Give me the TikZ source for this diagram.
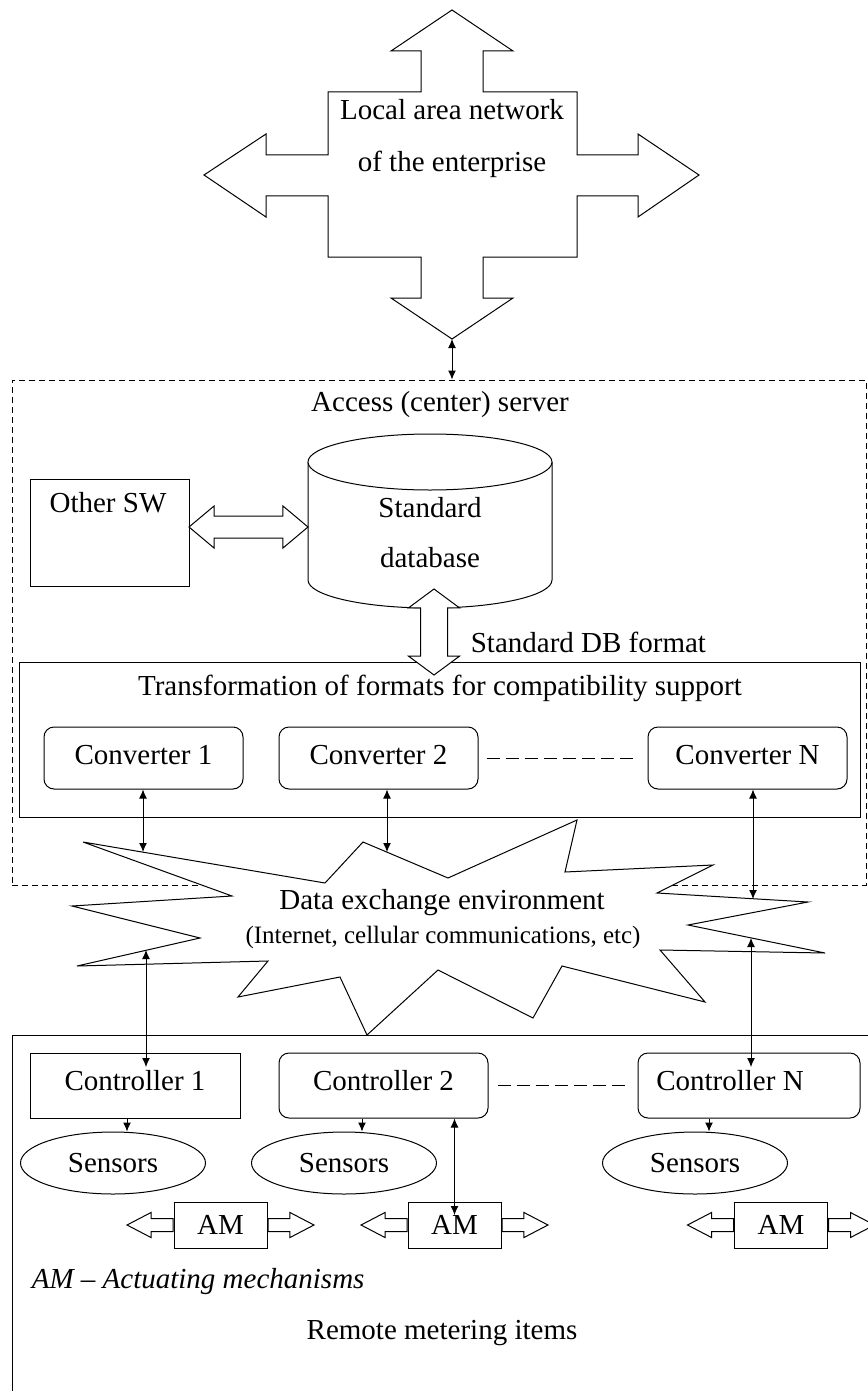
\documentclass[tikz,border=0pt]{standalone}
\usepackage{fontspec}
\setmainfont{Liberation Serif}
\usepackage{tikz}
\usetikzlibrary{shapes.geometric,shapes.arrows,arrows.meta}

\tikzset{
  box/.style={draw, minimum height=65pt, inner sep=0pt},
  rbox/.style={box, rounded corners=10pt},
  sensor/.style={draw, ellipse, minimum width=185pt, minimum height=62pt, inner sep=0pt},
  link/.style={{Latex[length=9pt,width=8pt]}-{Latex[length=9pt,width=8pt]}},
  feed/.style={-{Latex[length=9pt,width=8pt]}},
  fatlink/.style={double arrow, draw, fill=white},
  amend/.style={single arrow, draw, fill=white, inner sep=6pt, minimum height=46pt,
    single arrow head extend=6pt, single arrow tip angle=55, anchor=tail},
  gap/.style={dash pattern=on 13pt off 6pt},
}

\begin{document}
\begin{tikzpicture}[x=1pt, y=-1pt, line width=1pt, font=\fontsize{29}{35}\selectfont]
  \useasboundingbox (0,0) rectangle (867,1391);

  % enterprise network
  \draw (452,10) -- (513,51) -- (483,51) -- (483,92) -- (577,92) -- (577,155) -- (638,155)
    -- (638,134) -- (699,175) -- (638,217) -- (638,196) -- (577,196) -- (577,257) -- (483,257)
    -- (483,298) -- (513,298) -- (452,339) -- (391,298) -- (421,298) -- (421,257) -- (328,257)
    -- (328,196) -- (266,196) -- (266,217) -- (204,175) -- (266,134) -- (266,155) -- (328,155)
    -- (328,92) -- (421,92) -- (421,51) -- (391,51) -- cycle;
  \node[align=center, font=\fontsize{29}{52}\selectfont] (lan) at (452,139) {Local area network\\of the enterprise};
  \coordinate (lantip) at (452,339);

  % server
  \node[draw, dash pattern=on 6pt off 4pt, minimum width=854pt, minimum height=505pt] (server) at (439,632.5) {};
  \node (srvtitle) at (440,405) {Access (center) server};
  \draw[link] (lantip) -- (lantip |- server.north);

  \node[draw, minimum width=159pt, minimum height=107pt] (osw) at (109.5,532.5) {};
  \node (oswtext) at (108,503) {Other SW};

  \draw[fill=white] (308,462) -- (308,580) arc[start angle=180, end angle=0, x radius=122, y radius=28]
    -- (552,462);
  \draw[fill=white] (430,462) ellipse [x radius=122, y radius=28];
  \node[align=center, font=\fontsize{29}{50}\selectfont] (db) at (430,533) {Standard\\database};

  \node[fatlink, inner sep=10.5pt, minimum height=119pt, double arrow head extend=10pt,
    double arrow tip angle=80] (swlink) at (248.5,527) {};

  \node[draw, minimum width=841pt, minimum height=155pt] (trans) at (439.5,739.5) {};
  \node (transtitle) at (440,688) {Transformation of formats for compatibility support};
  \node[fatlink, shape border rotate=90, inner sep=13pt, minimum height=86pt,
    double arrow head extend=12pt, double arrow tip angle=107] (dbfmt) at (434,632) {};
  \node[anchor=west] (fmtlabel) at (467,642) {Standard DB format};

  \node[rbox, minimum width=199pt, minimum height=62pt, text depth=6pt] (conv1) at (143.5,758) {Converter 1};
  \node[rbox, minimum width=199pt, minimum height=62pt, text depth=6pt] (conv2) at (378.5,758) {Converter 2};
  \node[rbox, minimum width=199pt, minimum height=62pt, text depth=6pt] (convN) at (747.5,758) {Converter N};
  \draw[gap, shorten <=8pt, shorten >=10pt] (conv2.east) -- (convN.west);

  % remote side
  \draw (880,1035) -- (12,1035) -- (12,1400);

  % data exchange
  \draw[fill=white] (83,842) -- (325,883) -- (363,842) -- (448,878) -- (577,820) -- (565,872)
    -- (713,865) -- (657,893) -- (808,902) -- (688,925) -- (825,953) -- (660,950) -- (705,1002)
    -- (562,966) -- (533,1018) -- (438,970) -- (367,1035) -- (340,977) -- (238,997) -- (268,961)
    -- (77,966) -- (200,938) -- (72,906) -- (232,896) -- cycle;
  \node (dee) at (442,903) {Data exchange environment};
  \node[font=\fontsize{25}{30}\selectfont] (deenote) at (443,937) {(Internet, cellular communications, etc)};
  \coordinate (e1) at (143,852);
  \coordinate (e2) at (387,852);
  \coordinate (e3) at (753,899);
  \coordinate (e4) at (146,950);
  \coordinate (e5) at (751,938);

  \node[box, minimum width=210pt, text depth=10pt] (ctrl1) at (135,1085.5) {Controller 1};
  \node[rbox, minimum width=209pt, text depth=10pt] (ctrl2) at (383.5,1085.5) {Controller 2};
  \node[rbox, minimum width=222pt] (ctrlN) at (749,1085.5) {};
  \node[inner sep=0pt, text depth=10pt] (ctrlNtext) at (730,1085.5) {Controller N};
  \draw[gap, shorten <=9pt, shorten >=13pt] (ctrl2.east) -- (ctrlN.west);
  \coordinate (c1in) at (146,1067);
  \coordinate (cNin) at (751,1067);

  \draw[link] (conv1.south -| e1) -- (e1);
  \draw[link] (conv2.south -| e2) -- (e2);
  \draw[link] (convN.south -| e3) -- (e3);
  \draw[link] (e4) -- (c1in);
  \draw[link] (e5) -- (cNin);

  \node[sensor] (sens1) at (113,1163) {Sensors};
  \node[sensor] (sens2) at (344,1163) {Sensors};
  \node[sensor] (sensN) at (695,1163) {Sensors};
  \draw[feed] (ctrl1.south -| 127,0) -- (sens1.north -| 127,0);
  \draw[feed] (ctrl2.south -| 362,0) -- (sens2.north -| 362,0);
  \draw[feed] (ctrlN.south -| 709,0) -- (sensN.north -| 709,0);

  \foreach \i/\x in {1/220.5,2/454.5,3/781} {
    \node[box, minimum width=93pt, minimum height=46pt] (am\i) at (\x,1225) {AM};
    \node[amend, shape border rotate=180] (am\i l) at (am\i.west) {};
    \node[amend] (am\i r) at (am\i.east) {};
  }
  \coordinate (am2in) at (454.5,1215);
  \draw[link] (am2.north |- ctrl2.south) -- (am2in);

  \node[anchor=west] (amnote) at (28,1282) {\itshape AM -- Actuating mechanisms};
  \node (remote) at (442,1333) {Remote metering items};
\end{tikzpicture}
\end{document}
